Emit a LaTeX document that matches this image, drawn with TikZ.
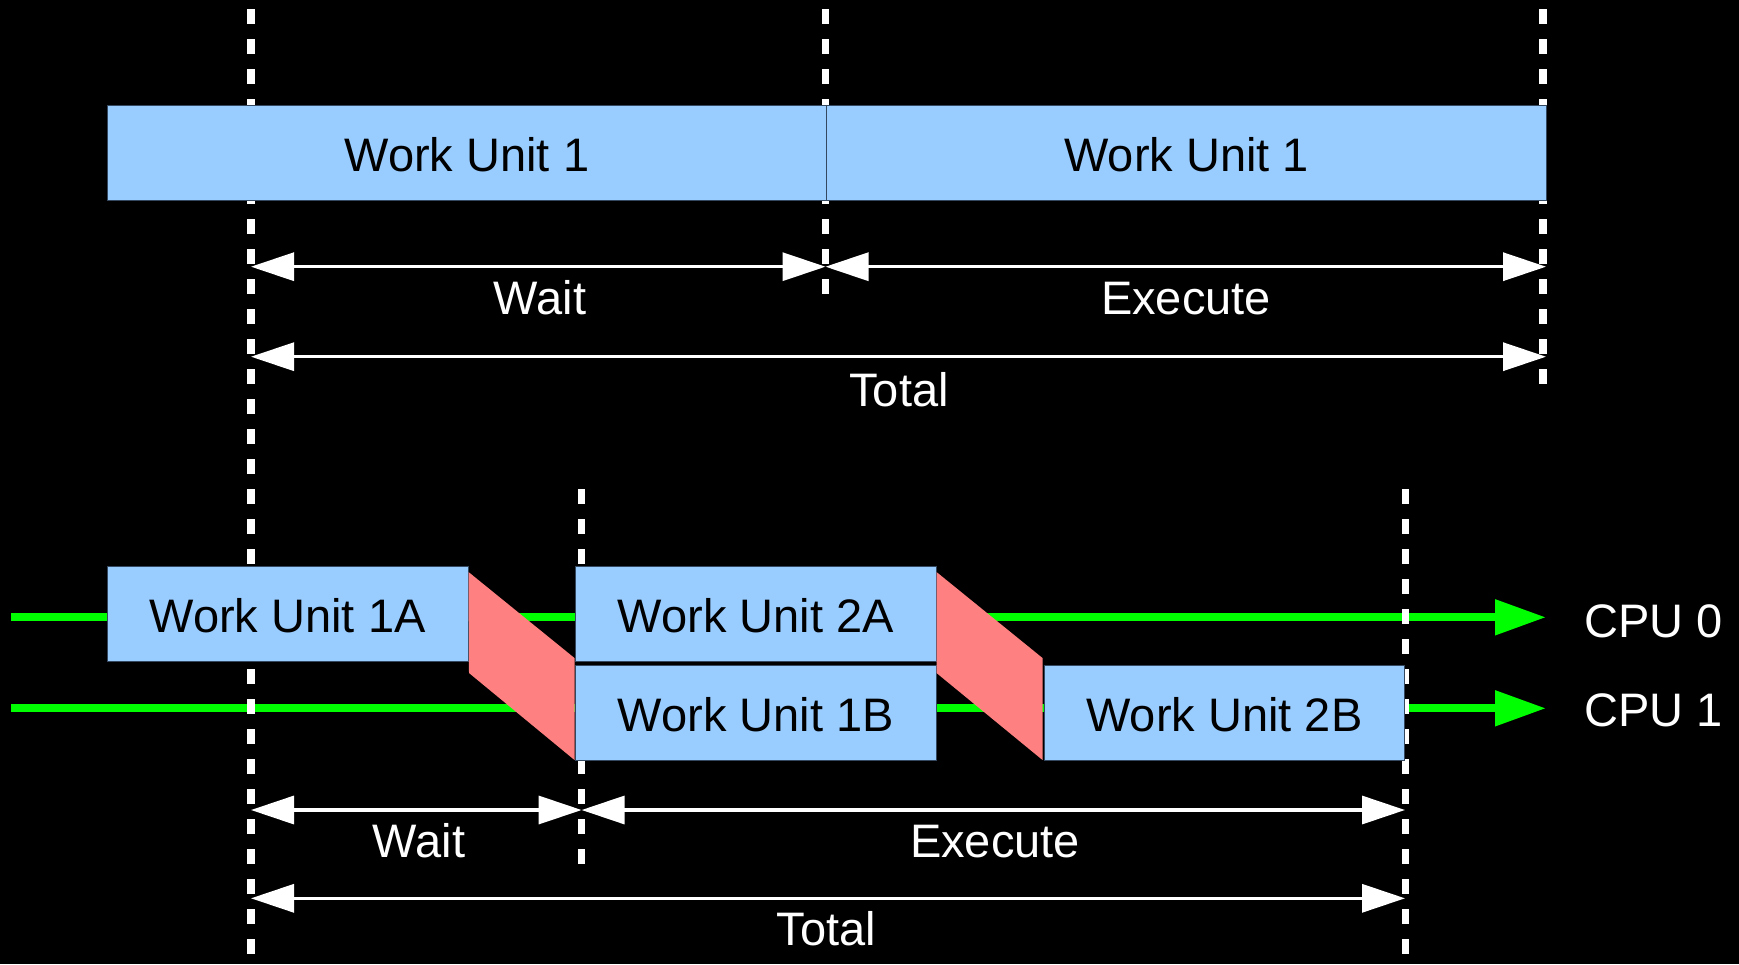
\documentclass[tikz,border=0pt]{standalone}
\usepackage{fontspec}
\setmainfont{Liberation Sans}
\usetikzlibrary{arrows.meta}
\definecolor{unitblue}{RGB}{153,204,255}
\definecolor{unitedge}{RGB}{52,72,96}
\definecolor{handoff}{RGB}{255,128,128}
\definecolor{lane}{RGB}{0,255,0}
\newcommand\lblfont{\fontsize{47}{56}\selectfont}
\begin{document}
\begin{tikzpicture}[x=1pt,y=-1pt,
  unit/.style={draw=unitedge, line width=0.8pt, fill=unitblue, inner sep=0pt,
    text=black, font=\lblfont, text height=37pt, text depth=0pt},
  note/.style={text=white, font=\lblfont, inner sep=0pt},
  guide/.style={draw=white, line width=7.5pt, dash pattern=on 15pt off 15pt},
  cpulane/.style={draw=lane, line width=8pt, arrows={-Triangle[length=51pt,width=34pt]}},
  span/.style={draw=white, line width=3.3pt,
    arrows={Triangle[length=43pt,width=28pt]-Triangle[length=43pt,width=28pt]}},
  xfer/.style={fill=handoff}]
\useasboundingbox (0,0) rectangle (1739,964);
\fill[black] (0,0) rectangle (1739,964);

% CPU lanes
\coordinate (l0s) at (11,617.3);
\coordinate (l0e) at (1546,617.3);
\coordinate (l1s) at (11,708.3);
\coordinate (l1e) at (1546,708.3);
\draw[cpulane] (l0s) -- (l0e);
\draw[cpulane] (l1s) -- (l1e);

% time marks
\coordinate (g1t) at (251,9.3);    \coordinate (g1b) at (251,964);
\coordinate (g2t) at (825.5,9.3);  \coordinate (g2b) at (825.5,296);
\coordinate (g3t) at (1543,9.3);   \coordinate (g3b) at (1543,388);
\coordinate (g4t) at (581.6,489);  \coordinate (g4b) at (581.6,868);
\coordinate (g5t) at (1405.6,489); \coordinate (g5b) at (1405.6,964);
\draw[guide] (g1t) -- (g1b);
\draw[guide] (g2t) -- (g2b);
\draw[guide] (g3t) -- (g3b);
\draw[guide] (g4t) -- (g4b);
\draw[guide] (g5t) -- (g5b);

% single-threaded work units
\node[unit, minimum width=719.3pt, minimum height=94.8pt] (wu1) at (466.95,153) {Work Unit 1};
\node[unit, minimum width=720.1pt, minimum height=94.8pt] (wu1n) at (1186.65,153) {Work Unit 1};

% split work units
\node[unit, minimum width=360.7pt, minimum height=95.3pt] (wu1a) at (287.65,614.1) {Work Unit 1A};
\node[unit, minimum width=360.2pt, minimum height=95.3pt] (wu2a) at (755.9,614.1) {Work Unit 2A};
\node[unit, minimum width=360.2pt, minimum height=95pt] (wu1b) at (755.9,712.5) {Work Unit 1B};
\node[unit, minimum width=360pt, minimum height=95pt] (wu2b) at (1224.4,712.5) {Work Unit 2B};

% hand-offs between CPUs
\fill[xfer] (468.5,572) -- (574.5,658) -- (574.5,760) -- (469,673) -- cycle;
\fill[xfer] (936.5,572) -- (1042.5,658) -- (1042.5,760) -- (936.5,673) -- cycle;

% spans, upper timeline
\coordinate (a0) at (251,266.7);
\coordinate (a1) at (825.5,266.7);
\coordinate (a2) at (1546,266.7);
\coordinate (b0) at (251,356.7);
\coordinate (b2) at (1546,356.7);
\draw[span] (a0) -- (a1);
\draw[span] (a1) -- (a2);
\draw[span] (b0) -- (b2);

% spans, lower timeline
\coordinate (c0) at (251,810);
\coordinate (c1) at (581.6,810);
\coordinate (c2) at (1405,810);
\coordinate (d0) at (251,898.3);
\coordinate (d2) at (1405,898.3);
\draw[span] (c0) -- (c1);
\draw[span] (c1) -- (c2);
\draw[span] (d0) -- (d2);

% labels
\node[note, anchor=base] (wait1) at (540,314.3) {Wait};
\node[note, anchor=base] (exec1) at (1186,314.3) {Execute};
\node[note, anchor=base] (tot1) at (899,406) {Total};
\node[note, anchor=base] (wait2) at (419,857) {Wait};
\node[note, anchor=base] (exec2) at (995,857) {Execute};
\node[note, anchor=base] (tot2) at (826.6,945) {Total};
\node[note, anchor=base west] (cpu0) at (1584,637.7) {CPU 0};
\node[note, anchor=base west] (cpu1) at (1584,726.7) {CPU 1};
\end{tikzpicture}
\end{document}
